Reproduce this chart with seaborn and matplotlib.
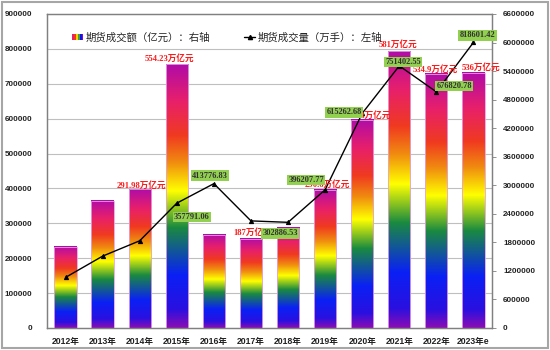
import numpy as np
import matplotlib
matplotlib.use("Agg")
import matplotlib.pyplot as plt
import seaborn as sns
from matplotlib.colors import LinearSegmentedColormap
from matplotlib.patches import Rectangle
from matplotlib.lines import Line2D
from matplotlib.legend_handler import HandlerBase
from matplotlib.ticker import FixedLocator

years = ["2012年", "2013年", "2014年", "2015年", "2016年", "2017年", "2018年",
         "2019年", "2020年", "2021年", "2022年", "2023年e"]
amount = [1711200, 2674700, 2919800, 5542300, 1956300, 1879000, 2108200,
          2906000, 4375300, 5812000, 5349000, 5360000]          # 亿元, right axis
volume = [145000, 206000, 250000, 357791.06, 413776.83, 307000, 302886.53,
          396207.77, 615262.68, 751402.55, 676820.78, 818601.42]  # 万手, left axis

amount_labels = {2: "291.98万亿元", 3: "554.23万亿元", 5: "187万亿元", 7: "290.6万亿元",
                 8: "437.53万亿元", 9: "581万亿元", 10: "534.9万亿元", 11: "536万亿元"}
volume_labels = {3: "357791.06", 4: "413776.83", 6: "302886.53", 7: "396207.77",
                 8: "615262.68", 9: "751402.55", 10: "676820.78", 11: "818601.42"}

left_ticks = list(range(0, 900001, 100000))
right_ticks = list(range(0, 6600001, 600000))

# label offsets in pixels (dx, dy)
amount_off = {2: (2, 4), 3: (-7, 6), 5: (2, 6), 7: (2, 5), 8: (4, 4), 9: (-1, 7), 10: (-1, 4), 11: (8, 6)}
volume_off = {3: (15, -14), 4: (-4, 8), 6: (-8, -11), 7: (-19, 10), 8: (-18, 1), 9: (4, 4), 10: (18, 6), 11: (4, 7)}

sns.set_style("white")
plt.rcParams['font.family'] = ['Liberation Sans', 'Noto Sans CJK SC']

fig = plt.figure(figsize=(5.5, 3.5), dpi=100)
fig.patches.append(Rectangle((0.003, 0.005), 0.994, 0.99, transform=fig.transFigure,
                             facecolor='none', edgecolor='#A6A6A6', lw=1.5))
ax = fig.add_axes([47/550, 22/350, 445/550, 314/350])

stops = [(0.0, '#8A0DB5'), (0.07, '#2A10E0'), (0.2, '#0A20F5'), (0.38, '#1A8A40'),
         (0.52, '#FFFF00'), (0.63, '#F08A10'), (0.73, '#F03A20'), (0.86, '#E8206A'),
         (1.0, '#B00CA8')]
cmap = LinearSegmentedColormap.from_list('rb', stops)

sns.barplot(x=years, y=amount, ax=ax, width=0.6, errorbar=None, color='white')
grad = np.linspace(0, 1, 256).reshape(-1, 1)
for p in ax.patches:
    x0, w, h = p.get_x(), p.get_width(), p.get_height()
    p.set_facecolor('none')
    p.set_edgecolor('#E6A0E6')
    p.set_linewidth(0.6)
    p.set_zorder(3)
    ax.imshow(grad, extent=[x0, x0 + w, 0, h], origin='lower', aspect='auto',
              cmap=cmap, zorder=2, interpolation='bilinear')

ax2 = ax.twinx()
ax.yaxis.tick_right()
ax2.yaxis.tick_left()
sns.pointplot(x=years, y=volume, ax=ax2, color='black', markers='^',
              markersize=3, linewidth=1)

ax.set_xlim(-0.5, len(years) - 0.5)
ax.set_ylim(0, right_ticks[-1])
ax2.set_ylim(0, left_ticks[-1])
ax.set_yticks(right_ticks)
ax.set_yticklabels([str(t) for t in right_ticks])
ax2.set_yticks(left_ticks)
ax2.set_yticklabels([str(t) for t in left_ticks])
ax.set_xticks(range(len(years)))
ax.set_xticklabels(years)

# gridlines at left-axis ticks, drawn under bars
ax.yaxis.set_minor_locator(FixedLocator(np.linspace(0, right_ticks[-1], len(left_ticks))))
ax.grid(True, which='minor', axis='y', color='#BFBFBF', lw=0.8)
ax.grid(False, which='major')
ax.set_axisbelow(True)
ax.tick_params(axis='y', which='minor', length=0)

for a in (ax, ax2):
    a.set_xlabel('')
    a.set_ylabel('')
    for s in a.spines.values():
        s.set_color('#808080')
        s.set_linewidth(0.9)
        s.set_visible(True)

ax.tick_params(axis='y', which='major', right=True, length=3, width=0.6, color='#808080',
               pad=5, labelsize=5.8, labelcolor='#222222')
ax2.tick_params(axis='y', which='major', left=False, pad=7, labelsize=5.8, labelcolor='#222222')
ax.tick_params(axis='x', bottom=False, pad=3, labelsize=6.2, labelcolor='#222222')
for lab in ax.get_yticklabels() + ax2.get_yticklabels() + ax.get_xticklabels():
    lab.set_fontweight('bold')

px = 0.72
for i, txt in amount_labels.items():
    dx, dy = amount_off[i]
    ax2.annotate(txt, xy=(i, amount[i] / right_ticks[-1] * left_ticks[-1]),
                 xytext=(dx * px, dy * px), textcoords='offset points',
                 ha='center', va='center', fontsize=6.2, fontweight='bold',
                 color='#FF1A1A', family=['Liberation Serif', 'Noto Sans CJK SC'],
                 zorder=5, annotation_clip=False)
for i, txt in volume_labels.items():
    dx, dy = volume_off[i]
    ax2.annotate(txt, xy=(i, volume[i]), xytext=(dx * px, dy * px),
                 textcoords='offset points', ha='center', va='center',
                 fontsize=6, fontweight='bold', color='#333333',
                 family=['Liberation Serif'], zorder=6, annotation_clip=False,
                 bbox=dict(boxstyle='square,pad=0.15', fc='#92D050', ec='none'))


class HandlerRainbow(HandlerBase):
    def create_artists(self, legend, orig_handle, xdescent, ydescent, width, height,
                       fontsize, trans):
        cols = ['#E8206A', '#F03A20', '#FFD000', '#40A040', '#1010F0', '#8A0DB5']
        n = len(cols)
        arts = []
        for k, c in enumerate(cols):
            arts.append(Rectangle((-xdescent + k * width / n, -ydescent),
                                  width / n, height, facecolor=c, edgecolor='none',
                                  transform=trans))
        return arts


bar_handle = Rectangle((0, 0), 1, 1)
line_handle = Line2D([], [], color='black', marker='^', markersize=3, lw=1)
ax2.legend([bar_handle, line_handle],
           ['期货成交额（亿元）：右轴', '期货成交量（万手）：左轴'],
           handler_map={Rectangle: HandlerRainbow()},
           loc='center', bbox_to_anchor=(0.405, 0.925), ncol=2, frameon=False,
           prop={'family': ['Noto Sans CJK SC'], 'size': 7.5},
           handlelength=1.1, handleheight=0.6, handletextpad=0.25, columnspacing=3.2)

fig.savefig('out.png', dpi=100)
